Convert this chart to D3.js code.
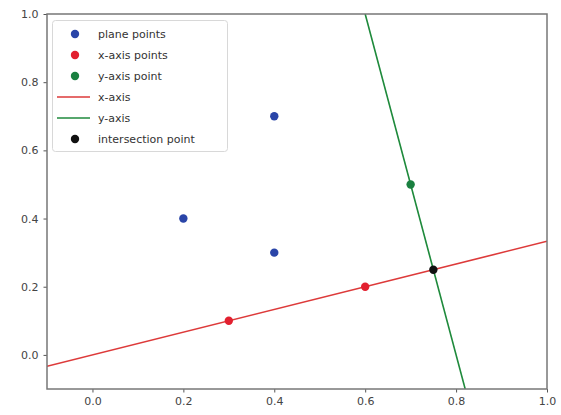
<!DOCTYPE html>
<html><head><meta charset="utf-8">
<script src="https://cdn.jsdelivr.net/npm/d3@7"></script>
<style>body{margin:0;background:#fff}svg{display:block;font-family:"DejaVu Sans",sans-serif}</style>
</head><body>
<svg id="c" width="561" height="415"></svg>
<script>
const xTicks = [0.0, 0.2, 0.4, 0.6, 0.8, 1.0];
const yTicks = [0.0, 0.2, 0.4, 0.6, 0.8, 1.0];
const planeX = [0.2, 0.4, 0.4];
const planeY = [0.4, 0.3, 0.7];
const xAxisPtsX = [0.3, 0.6];
const xAxisPtsY = [0.1, 0.2];
const yAxisPtX = [0.7];
const yAxisPtY = [0.5];
const interX = [0.75];
const interY = [0.25];
const xLineX = [-0.1, 1.0];
const xLineY = [-0.0333, 0.3333];
const yLineX = [0.6, 0.82];
const yLineY = [1.0, -0.1];
const legendLabels = ["plane points", "x-axis points", "y-axis point", "x-axis", "y-axis", "intersection point"];

const cBlue = "#2a45a8", cRed = "#e2202f", cGreen = "#1a8040", cBlack = "#111";
const cRedLine = "#dd3a3a", cGreenLine = "#1f8a3c";

const svg = d3.select("#c");
const L = 47, R = 547, T = 14, B = 389;
const x = d3.scaleLinear().domain([-0.1, 1.0]).range([L, R]);
const y = d3.scaleLinear().domain([-0.1, 1.0]).range([B, T]);

svg.append("defs").append("clipPath").attr("id", "clip")
  .append("rect").attr("x", L).attr("y", T).attr("width", R - L).attr("height", B - T);

const plot = svg.append("g").attr("clip-path", "url(#clip)");
const line = d3.line().x(d => x(d[0])).y(d => y(d[1]));
plot.append("path").datum(xLineX.map((v, i) => [v, xLineY[i]])).attr("d", line)
  .attr("stroke", cRedLine).attr("stroke-width", 1.6).attr("fill", "none");
plot.append("path").datum(yLineX.map((v, i) => [v, yLineY[i]])).attr("d", line)
  .attr("stroke", cGreenLine).attr("stroke-width", 1.6).attr("fill", "none");

function pts(xs, ys, col) {
  plot.selectAll(null).data(xs.map((v, i) => [v, ys[i]])).enter().append("circle")
    .attr("cx", d => x(d[0])).attr("cy", d => y(d[1])).attr("r", 4.2).attr("fill", col);
}
pts(planeX, planeY, cBlue);
pts(xAxisPtsX, xAxisPtsY, cRed);
pts(yAxisPtX, yAxisPtY, cGreen);
pts(interX, interY, cBlack);

const fmt = d3.format(".1f");
const ax = svg.append("g").attr("transform", `translate(0,${B})`)
  .call(d3.axisBottom(x).tickValues(xTicks).tickFormat(fmt).tickSize(3.5).tickPadding(5));
const ay = svg.append("g").attr("transform", `translate(${L},0)`)
  .call(d3.axisLeft(y).tickValues(yTicks).tickFormat(fmt).tickSize(3.5).tickPadding(5));
[ax, ay].forEach(a => {
  a.select(".domain").remove();
  a.selectAll("line").attr("stroke", "#555");
  a.selectAll("text").attr("font-size", 11).attr("fill", "#444").attr("font-family", "DejaVu Sans");
});
svg.append("rect").attr("x", L).attr("y", T).attr("width", R - L).attr("height", B - T)
  .attr("fill", "none").attr("stroke", "#777").attr("stroke-width", 1.5);

// legend
const lg = svg.append("g");
lg.append("rect").attr("x", 52.5).attr("y", 20.5).attr("width", 175).attr("height", 131)
  .attr("fill", "#fff").attr("fill-opacity", 0.8).attr("stroke", "#d8d8d8").attr("rx", 3);
const legendStyles = [
  {t: "pt", c: cBlue}, {t: "pt", c: cRed}, {t: "pt", c: cGreen},
  {t: "ln", c: cRedLine}, {t: "ln", c: cGreenLine}, {t: "pt", c: cBlack}
];
legendLabels.forEach((lab, i) => {
  const yy = 34 + i * 21;
  const s = legendStyles[i];
  if (s.t === "pt") lg.append("circle").attr("cx", 75).attr("cy", yy).attr("r", 4.2).attr("fill", s.c);
  else lg.append("line").attr("x1", 57).attr("x2", 90).attr("y1", yy).attr("y2", yy)
    .attr("stroke", s.c).attr("stroke-width", 1.6);
  lg.append("text").attr("x", 98).attr("y", yy).attr("dy", "0.35em").attr("font-size", 11)
    .attr("fill", "#333").text(lab);
});
</script>
</body></html>
